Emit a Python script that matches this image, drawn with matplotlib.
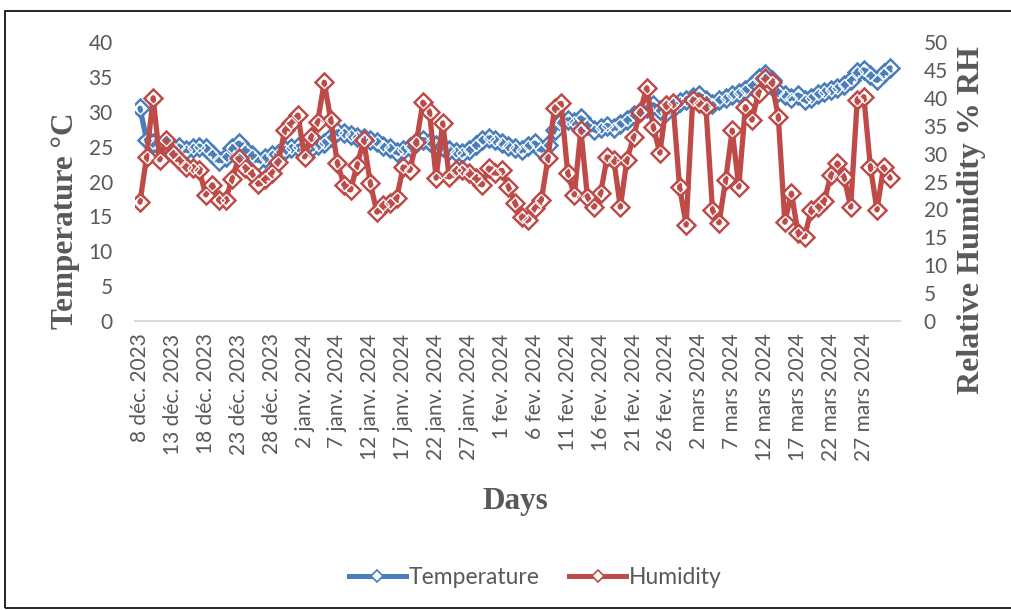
import numpy as np
import pandas as pd
import matplotlib
matplotlib.use("Agg")
import matplotlib.pyplot as plt
from matplotlib.transforms import ScaledTranslation
from matplotlib.lines import Line2D
from matplotlib.patches import Rectangle

start_date = "2023-12-08"

temperature = [
    30.5, 26.0, 25.5, 25.0, 25.3, 24.8, 25.0, 24.5, 24.8, 25.0,
    24.8, 24.0, 23.0, 23.5, 24.8, 25.5, 24.5, 23.8, 23.0, 23.4,
    23.8, 24.0, 24.5, 24.8, 25.0, 25.0, 24.8, 25.2, 25.5, 26.4,
    27.1, 27.0, 26.7, 26.4, 26.2, 26.0, 25.7, 25.1, 24.8, 24.2,
    24.5, 25.0, 25.5, 26.0, 25.7, 25.2, 25.0, 24.5, 24.2, 24.1,
    24.5, 25.2, 26.0, 26.2, 26.0, 25.5, 25.1, 24.8, 24.5, 25.1,
    25.5, 24.5, 25.2, 27.4, 28.5, 28.8, 28.5, 29.1, 28.1, 27.4,
    27.7, 28.0, 27.7, 28.2, 28.8, 29.5, 30.0, 30.5, 31.0, 30.2,
    30.0, 30.5, 31.4, 31.7, 32.1, 32.4, 31.7, 31.1, 31.7, 32.0,
    32.4, 32.7, 33.1, 33.8, 34.8, 35.4, 34.5, 32.8, 32.4, 32.0,
    32.4, 31.7, 32.0, 32.5, 32.8, 33.1, 33.4, 33.8, 34.5, 35.7,
    36.0, 35.3, 34.5, 35.5, 36.3,
]

humidity = [
    21.3, 29.4, 40.0, 28.9, 32.4, 30.0, 28.9, 27.6, 27.4, 27.0,
    22.6, 24.4, 21.7, 21.7, 25.5, 29.2, 27.5, 26.5, 24.5, 25.5,
    26.5, 28.5, 34.2, 35.5, 36.9, 29.4, 33.0, 35.7, 42.8, 36.0,
    28.3, 24.4, 23.5, 28.0, 32.4, 24.7, 19.5, 20.8, 21.1, 22.0,
    27.6, 27.0, 32.0, 39.2, 37.5, 25.6, 35.5, 25.8, 27.0, 27.0,
    26.5, 25.6, 24.4, 27.4, 26.5, 27.0, 24.0, 21.1, 18.6, 18.1,
    20.3, 21.7, 29.2, 38.2, 39.0, 26.5, 22.6, 34.2, 22.2, 20.4,
    22.9, 29.4, 28.9, 20.4, 28.9, 33.0, 37.5, 41.8, 34.8, 30.1,
    38.7, 39.0, 24.0, 17.2, 39.6, 39.0, 38.4, 19.9, 17.6, 25.3,
    34.2, 24.0, 38.4, 36.0, 40.9, 43.5, 42.8, 36.6, 17.7, 22.9,
    15.8, 15.1, 19.9, 20.4, 21.5, 26.2, 28.3, 25.8, 20.4, 39.6,
    40.2, 27.6, 19.9, 27.6, 25.6,
]

tick_labels = [
    "8 déc. 2023", "13 déc. 2023", "18 déc. 2023", "23 déc. 2023",
    "28 déc. 2023", "2 janv. 2024", "7 janv. 2024", "12 janv. 2024",
    "17 janv. 2024", "22 janv. 2024", "27 janv. 2024", "1 fev. 2024",
    "6 fev. 2024", "11 fev. 2024", "16 fev. 2024", "21 fev. 2024",
    "26 fev. 2024", "2 mars 2024", "7 mars 2024", "12 mars 2024",
    "17 mars 2024", "22 mars 2024", "27 mars 2024",
]

temp_ticks = [0, 5, 10, 15, 20, 25, 30, 35, 40]
hum_ticks = [0, 5, 10, 15, 20, 25, 30, 35, 40, 45, 50]

dates = pd.date_range(start_date, periods=len(temperature), freq="D")
x = np.arange(len(dates))
tick_pos = x[::5][: len(tick_labels)]

BLUE = "#4A7EBB"
RED = "#BE4B48"
GRAY = "#595959"
SANS = ["Lato", "DejaVu Sans"]
SERIF = ["Liberation Serif", "DejaVu Serif"]

W, H = 1011, 610
fig = plt.figure(figsize=(W / 100, H / 100), dpi=100)

# outer border like the reference
fig.patches.append(Rectangle((5 / W, 2 / H), 1.2, (H - 13) / H, transform=fig.transFigure,
                             fill=False, edgecolor="black", linewidth=1.2, clip_on=False))

ax = fig.add_axes([135 / W, 1 - 321 / H, 765 / W, 279 / H])
ax2 = ax.twinx()
ax2.patch.set_visible(False)


def draw(axis, y, color):
    axis.plot(x, y, color=color, lw=3.8, solid_joinstyle="round", solid_capstyle="round", zorder=2)
    axis.plot(x, y, ls="none", marker="D", ms=9.5, mfc="none", mec=color, mew=1.8, zorder=3)
    axis.plot(x, y, ls="none", marker="D", ms=6.5, mfc="none", mec="white", mew=0.9, zorder=4)


draw(ax, temperature, BLUE)
draw(ax2, humidity, RED)

ax.set_xlim(-0.76, 115.5)
ax.set_ylim(0, 40)
ax2.set_ylim(0, 50)
ax.set_yticks(temp_ticks)
ax2.set_yticks(hum_ticks)
ax.set_xticks(tick_pos)
ax.set_xticklabels(tick_labels, rotation=90, fontsize=15, color=GRAY, family=SANS)
for lab in ax.get_xticklabels():
    lab.set_transform(lab.get_transform() + ScaledTranslation(9 / 100, 0, fig.dpi_scale_trans))

for a in (ax, ax2):
    for s in a.spines.values():
        s.set_visible(False)
    a.tick_params(length=0)
ax.spines["bottom"].set_visible(True)
ax.spines["bottom"].set_color("#D9D9D9")
ax.spines["bottom"].set_linewidth(1.5)

ax.tick_params(axis="y", labelsize=15, labelcolor=GRAY, pad=16)
ax2.tick_params(axis="y", labelsize=15, labelcolor=GRAY, pad=17)
ax.tick_params(axis="x", pad=9)
for lab in ax.get_yticklabels() + ax2.get_yticklabels():
    lab.set_family(SANS)

fig.text(65 / W, 1 - 221 / H, "Temperature °C", rotation=90, ha="center", va="center",
         fontsize=22.5, fontweight="bold", color=GRAY, family=SERIF)
fig.text(972 / W, 1 - 220 / H, "Relative Humidity % RH", rotation=90, ha="center", va="center",
         fontsize=23, fontweight="bold", color=GRAY, family=SERIF)
fig.text(515 / W, 1 - 501 / H, "Days", ha="center", va="center",
         fontsize=22.5, fontweight="bold", color=GRAY, family=SERIF)

handles = [
    Line2D([0], [0], color=BLUE, lw=3.6, marker="D", ms=6, mfc="white", mec=BLUE, mew=1.2),
    Line2D([0], [0], color=RED, lw=3.6, marker="D", ms=6, mfc="white", mec=RED, mew=1.2),
]
leg = fig.legend(handles, ["Temperature", "Humidity"], loc="center", bbox_to_anchor=(535 / W, 1 - 578 / H),
                 ncol=2, frameon=False, handlelength=2.5, handletextpad=0.1, columnspacing=1.3,
                 prop={"family": SANS, "size": 16.5})
for t in leg.get_texts():
    t.set_color(GRAY)

fig.savefig("out.png", dpi=100)
